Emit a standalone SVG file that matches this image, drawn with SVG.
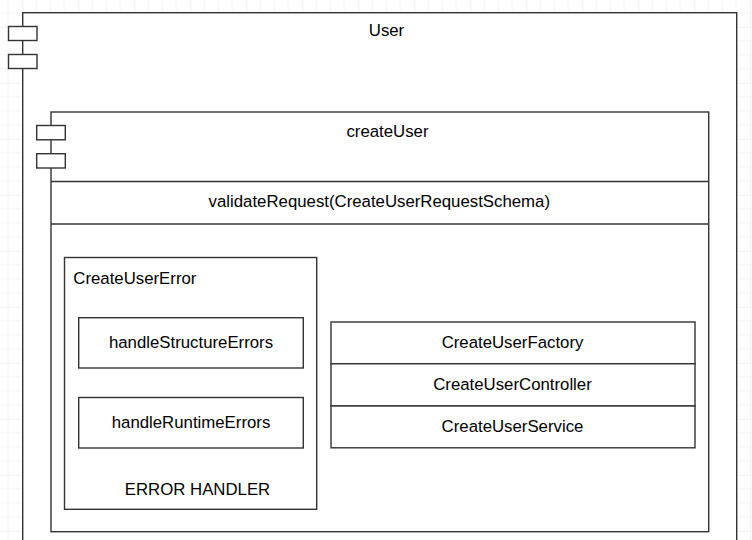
<svg xmlns="http://www.w3.org/2000/svg" width="752" height="540" viewBox="0 0 752 540">
  <defs>
    <pattern id="grid" x="22.3" y="26.7" width="56" height="56" patternUnits="userSpaceOnUse">
      <path d="M14 0V56M28 0V56M42 0V56M0 14H56M0 28H56M0 42H56" stroke="#f3f3f3" stroke-width="1" fill="none"/>
      <path d="M0 0V56M0 0H56" stroke="#e4e4e4" stroke-width="1" fill="none"/>
    </pattern>
    <style>
      .box { fill: #ffffff; stroke: #333333; stroke-width: 1.4; }
      .line { stroke: #333333; stroke-width: 1.4; fill: none; }
      .t { font-family: "Liberation Sans", Arial, sans-serif; font-size: 16.8px; fill: #000000; }
      .c { text-anchor: middle; }
    </style>
  </defs>
  <rect x="0" y="0" width="752" height="540" fill="#ffffff"/>
  <rect x="0" y="0" width="752" height="540" fill="url(#grid)"/>

  <g id="User">
    <rect class="box" x="22.7" y="12.7" width="714" height="560"/>
    <rect class="box" x="8.5" y="26.5" width="28.5" height="14"/>
    <rect class="box" x="8.5" y="54.5" width="28.5" height="14"/>
    <text class="t c" x="386.5" y="36">User</text>
  </g>

  <g id="createUser">
    <rect class="box" x="51" y="112" width="657.7" height="419.7"/>
    <rect class="box" x="36.7" y="125.5" width="28.6" height="14.3"/>
    <rect class="box" x="36.7" y="153.7" width="28.6" height="14.3"/>
    <text class="t c" x="387.5" y="137">createUser</text>
  </g>

  <g id="validateRequest">
    <line class="line" x1="51" y1="181.5" x2="708.7" y2="181.5"/>
    <line class="line" x1="51" y1="224" x2="708.7" y2="224"/>
    <text class="t c" x="379.3" y="206.5">validateRequest(CreateUserRequestSchema)</text>
  </g>

  <g id="CreateUserError">
    <rect class="box" x="64.5" y="257.5" width="252.2" height="251.8"/>
    <text class="t" x="73.3" y="283.7">CreateUserError</text>
    <text class="t c" x="197.5" y="494.5">ERROR HANDLER</text>
  </g>

  <g id="handleStructureErrors">
    <rect class="box" x="78.7" y="317.7" width="224.6" height="50.3"/>
    <text class="t c" x="191" y="347.9">handleStructureErrors</text>
  </g>

  <g id="handleRuntimeErrors">
    <rect class="box" x="78.7" y="397.5" width="224.6" height="50.5"/>
    <text class="t c" x="191" y="427.7">handleRuntimeErrors</text>
  </g>

  <g id="CreateUserFactory">
    <rect class="box" x="331" y="322" width="364" height="41.8"/>
    <text class="t c" x="512.5" y="347.9">CreateUserFactory</text>
  </g>
  <g id="CreateUserController">
    <rect class="box" x="331" y="363.8" width="364" height="42.2"/>
    <text class="t c" x="512.5" y="390.2">CreateUserController</text>
  </g>
  <g id="CreateUserService">
    <rect class="box" x="331" y="406" width="364" height="41.8"/>
    <text class="t c" x="512.5" y="431.9">CreateUserService</text>
  </g>

  <g id="connectors"></g>
</svg>
